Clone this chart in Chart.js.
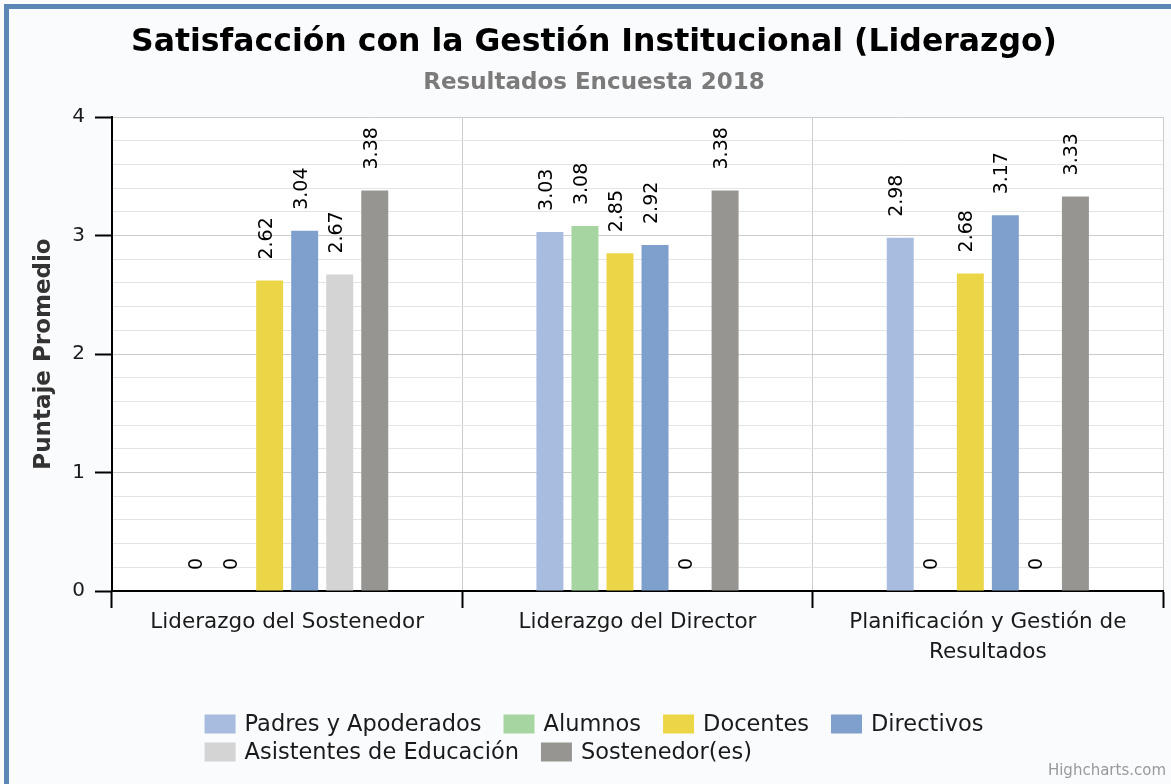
<!DOCTYPE html>
<html>
<head>
<meta charset="utf-8">
<script src="https://cdn.jsdelivr.net/npm/chart.js@4.4.1/dist/chart.umd.min.js"></script>
<style>
  html, body { margin: 0; padding: 0; background: #fff; }
  #wrap { width: 1171px; height: 784px; }
</style>
</head>
<body>
<div id="wrap"><canvas id="liderazgo"></canvas></div>
<script>
// data
const categories = ['Liderazgo del Sostenedor', 'Liderazgo del Director', ['Planificación y Gestión de', 'Resultados']];
const padres = [0, 3.03, 2.98];
const alumnos = [0, 3.08, 0];
const docentes = [2.62, 2.85, 2.68];
const directivos = [3.04, 2.92, 3.17];
const asistentes = [2.67, 0, 0];
const sostenedor = [3.38, 3.38, 3.33];
const yTicks = [0, 1, 2, 3, 4];

const FONT = '"DejaVu Sans", Verdana, sans-serif';

const isMajor = (v) => Math.abs(v - Math.round(v)) < 1e-6 && yTicks.includes(Math.round(v));

/**
 * page background, frame and white plot area
 */
const backgroundPlugin = {
    id: 'backgroundPlugin',
    beforeDraw(chart) {
        const { ctx, chartArea } = chart;
        ctx.save();
        ctx.fillStyle = '#fafbfd';
        ctx.fillRect(0, 0, chart.width, chart.height);
        ctx.fillStyle = '#5b86b5';
        ctx.fillRect(4, 4, chart.width - 4, 5);   // top frame
        ctx.fillRect(4, 4, 5, chart.height - 4);  // left frame
        ctx.fillStyle = '#ffffff';
        ctx.fillRect(chartArea.left, chartArea.top, chartArea.right - chartArea.left, chartArea.bottom - chartArea.top);
        ctx.restore();
    }
};

// rotated value above each bar (zeros too)
const valueLabels = {
    id: 'valueLabels',
    afterDatasetsDraw(chart) {
        const { ctx } = chart;
        ctx.save();
        ctx.font = `19px ${FONT}`;
        ctx.fillStyle = '#000';
        ctx.textAlign = 'left';
        ctx.textBaseline = 'middle';
        chart.data.datasets.forEach((ds, i) => {
            chart.getDatasetMeta(i).data.forEach((bar, j) => {
                ctx.save();
                ctx.translate(bar.x - 3, bar.y - 21);
                ctx.rotate(-Math.PI / 2);
                ctx.fillText(String(ds.data[j]), 0, 0);
                ctx.restore();
            });
        });
        ctx.restore();
    }
};

// title, subtitle, two-row legend and credit text
const decorations = {
    id: 'decorations',
    afterDraw(chart) {
        const { ctx } = chart;
        const cx = 594;
        ctx.save();
        ctx.textAlign = 'center';
        ctx.textBaseline = 'middle';
        ctx.fillStyle = '#000';
        ctx.font = `bold 31.5px ${FONT}`;
        ctx.fillText('Satisfacción con la Gestión Institucional (Liderazgo)', cx, 43);
        ctx.fillStyle = '#7b7b7b';
        ctx.font = `bold 23px ${FONT}`;
        ctx.fillText('Resultados Encuesta 2018', cx, 83);

        // legend
        ctx.font = `22.5px ${FONT}`;
        const boxW = 31, boxH = 19, textGap = 9, itemGap = 22, maxWidth = 840;
        const items = chart.data.datasets.map(ds => ({
            label: ds.label,
            color: ds.backgroundColor,
            width: boxW + textGap + ctx.measureText(ds.label).width
        }));
        const rows = [[]];
        let rowW = 0;
        items.forEach(it => {
            const w = rowW ? rowW + itemGap + it.width : it.width;
            if (w > maxWidth && rows[rows.length - 1].length) {
                rows.push([it]);
                rowW = it.width;
            } else {
                rows[rows.length - 1].push(it);
                rowW = w;
            }
        });
        const firstW = rows[0].reduce((s, it) => s + it.width, 0) + itemGap * (rows[0].length - 1);
        const left = cx - firstW / 2;
        ctx.textAlign = 'left';
        rows.forEach((row, r) => {
            const y = 724 + r * 28;
            let x = left;
            row.forEach(it => {
                ctx.fillStyle = it.color;
                ctx.fillRect(x, y - boxH / 2, boxW, boxH);
                ctx.fillStyle = '#1a1a1a';
                ctx.fillText(it.label, x + boxW + textGap, y + 1);
                x += it.width + itemGap;
            });
        });

        ctx.textAlign = 'right';
        ctx.font = `15px ${FONT}`;
        ctx.fillStyle = '#999';
        ctx.fillText('Highcharts.com', 1166, 771);
        ctx.restore();
    }
};

const datasets = [
    { label: 'Padres y Apoderados', data: padres, backgroundColor: '#a7bcde' },
    { label: 'Alumnos', data: alumnos, backgroundColor: '#a6d5a2' },
    { label: 'Docentes', data: docentes, backgroundColor: '#ebd647' },
    { label: 'Directivos', data: directivos, backgroundColor: '#7f9fcc' },
    { label: 'Asistentes de Educación', data: asistentes, backgroundColor: '#d4d4d4' },
    { label: 'Sostenedor(es)', data: sostenedor, backgroundColor: '#969591' }
];

const options = {
    responsive: true,
    maintainAspectRatio: false,
    animation: false,
    layout: {
        padding: { left: 16, right: 8, top: 117, bottom: 0 }
    },
    datasets: {
        bar: {
            categoryPercentage: 0.6,
            barPercentage: 0.77,
            borderWidth: 0
        }
    },
    plugins: {
        legend: { display: false },
        tooltip: { enabled: false }
    },
    scales: {
        x: {
            afterFit(scale) { scale.height = 784 - 591; },
            grid: {
                offset: true,
                color: '#cccccc',
                lineWidth: 1,
                tickColor: '#000',
                tickWidth: 2,
                tickLength: 17
            },
            border: { color: '#000', width: 2 },
            ticks: {
                color: '#1a1a1a',
                padding: -1,
                autoSkip: false,
                maxRotation: 0,
                font: { family: FONT, size: 21.5, lineHeight: 1.4 }
            }
        },
        y: {
            min: 0,
            max: 4,
            afterFit(scale) { scale.width = 112 - 16; },
            title: {
                display: true,
                text: 'Puntaje Promedio',
                color: '#333',
                padding: { top: 14, bottom: 0 },
                font: { family: FONT, size: 23, weight: 'bold' }
            },
            grid: {
                color: (c) => isMajor(c.tick.value) ? '#cccccc' : '#e4e4e4',
                lineWidth: 1,
                tickLength: 17,
                tickColor: (c) => isMajor(c.tick.value) ? '#000' : 'rgba(0,0,0,0)',
                tickWidth: 2
            },
            border: { color: '#000', width: 2 },
            ticks: {
                stepSize: 0.2,
                autoSkip: false,
                padding: 10,
                color: '#1a1a1a',
                font: { family: FONT, size: 20 },
                callback: (v) => isMajor(v) ? Math.round(v) : ''
            }
        }
    }
};

const el = document.getElementById('liderazgo');
if (el) {
    new Chart(el, {
        type: 'bar',
        data: { labels: categories, datasets: datasets },
        options: options,
        plugins: [backgroundPlugin, valueLabels, decorations]
    });
}
</script>
</body>
</html>
